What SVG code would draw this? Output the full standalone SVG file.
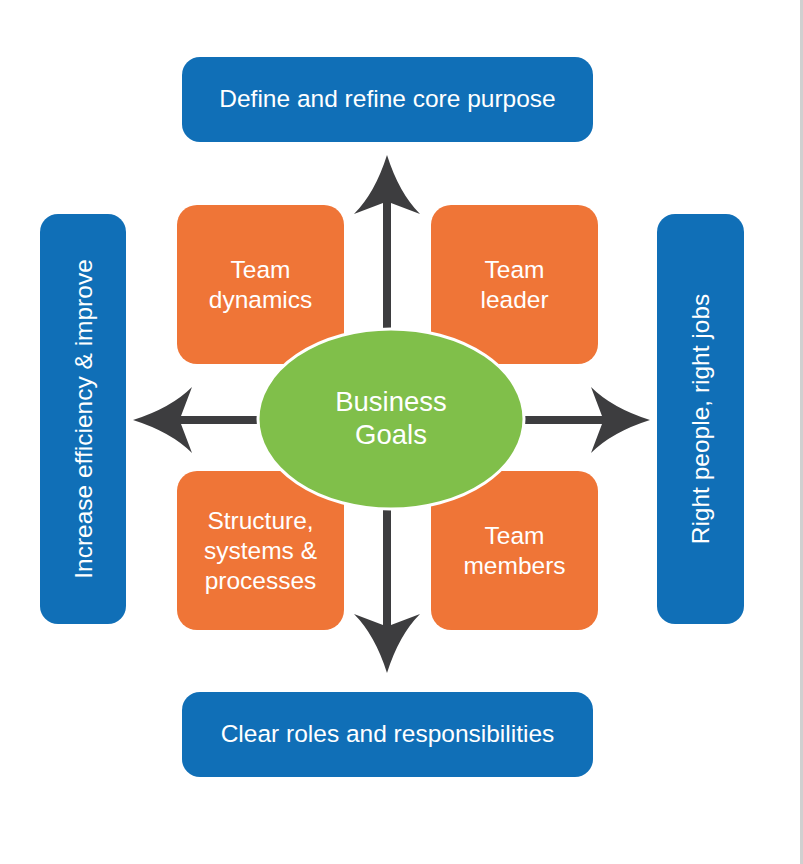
<svg xmlns="http://www.w3.org/2000/svg" width="803" height="864" viewBox="0 0 803 864">
<defs>
<style>
.blue{fill:#106fb7}
.orange{fill:#ef7537}
.lbl{font-family:"Liberation Sans",Arial,sans-serif;font-size:24.5px;fill:#fff;text-anchor:middle}
.big{font-size:27.5px}
.shaft{stroke:#3d3d3f;stroke-width:8;fill:none}
.head{fill:#3d3d3f}
</style>
<path id="ah" d="M0,0 Q12,38 33,59 L4,48 L-4,48 L-33,59 Q-12,38 0,0 Z"/>
</defs>
<rect x="0" y="0" width="803" height="864" fill="#fff"/>
<rect x="800" y="0" width="3" height="864" fill="#d0d0d0"/>

<g id="connectors">
<line class="shaft" x1="387" y1="330" x2="387" y2="200"/>
<use href="#ah" class="head" transform="translate(387,155)"/>
<line class="shaft" x1="387" y1="508" x2="387" y2="628"/>
<use href="#ah" class="head" transform="translate(387,673) rotate(180)"/>
<line class="shaft" x1="259" y1="420" x2="178" y2="420"/>
<use href="#ah" class="head" transform="translate(133,420) rotate(-90)"/>
<line class="shaft" x1="523" y1="420" x2="604" y2="420"/>
<use href="#ah" class="head" transform="translate(650,420) rotate(90)"/>
</g>

<g id="top">
<rect class="blue" x="182" y="57" width="411" height="85" rx="18"/>
<text class="lbl" x="387.5" y="107">Define and refine core purpose</text>
</g>
<g id="bottom">
<rect class="blue" x="182" y="692" width="411" height="85" rx="18"/>
<text class="lbl" x="387.5" y="742">Clear roles and responsibilities</text>
</g>
<g id="left">
<rect class="blue" x="40" y="214" width="86" height="410" rx="18"/>
<text class="lbl" transform="translate(92,419) rotate(-90)" x="0" y="0">Increase efficiency &amp; improve</text>
</g>
<g id="right">
<rect class="blue" x="657" y="214" width="87" height="410" rx="18"/>
<text class="lbl" transform="translate(709,419) rotate(-90)" x="0" y="0">Right people, right jobs</text>
</g>

<g id="team-dynamics">
<rect class="orange" x="177" y="205" width="167" height="159" rx="20"/>
<text class="lbl" x="260.5" y="278">Team</text>
<text class="lbl" x="260.5" y="308">dynamics</text>
</g>
<g id="team-leader">
<rect class="orange" x="431" y="205" width="167" height="159" rx="20"/>
<text class="lbl" x="514.5" y="278">Team</text>
<text class="lbl" x="514.5" y="308">leader</text>
</g>
<g id="structure">
<rect class="orange" x="177" y="471" width="167" height="159" rx="20"/>
<text class="lbl" x="260.5" y="529">Structure,</text>
<text class="lbl" x="260.5" y="559">systems &amp;</text>
<text class="lbl" x="260.5" y="589">processes</text>
</g>
<g id="team-members">
<rect class="orange" x="431" y="471" width="167" height="159" rx="20"/>
<text class="lbl" x="514.5" y="544">Team</text>
<text class="lbl" x="514.5" y="574">members</text>
</g>

<g id="business-goals">
<ellipse cx="391" cy="419" rx="133" ry="90" fill="#80bf4a" stroke="#fff" stroke-width="3"/>
<text class="lbl big" x="391" y="411">Business</text>
<text class="lbl big" x="391" y="444">Goals</text>
</g>
</svg>
